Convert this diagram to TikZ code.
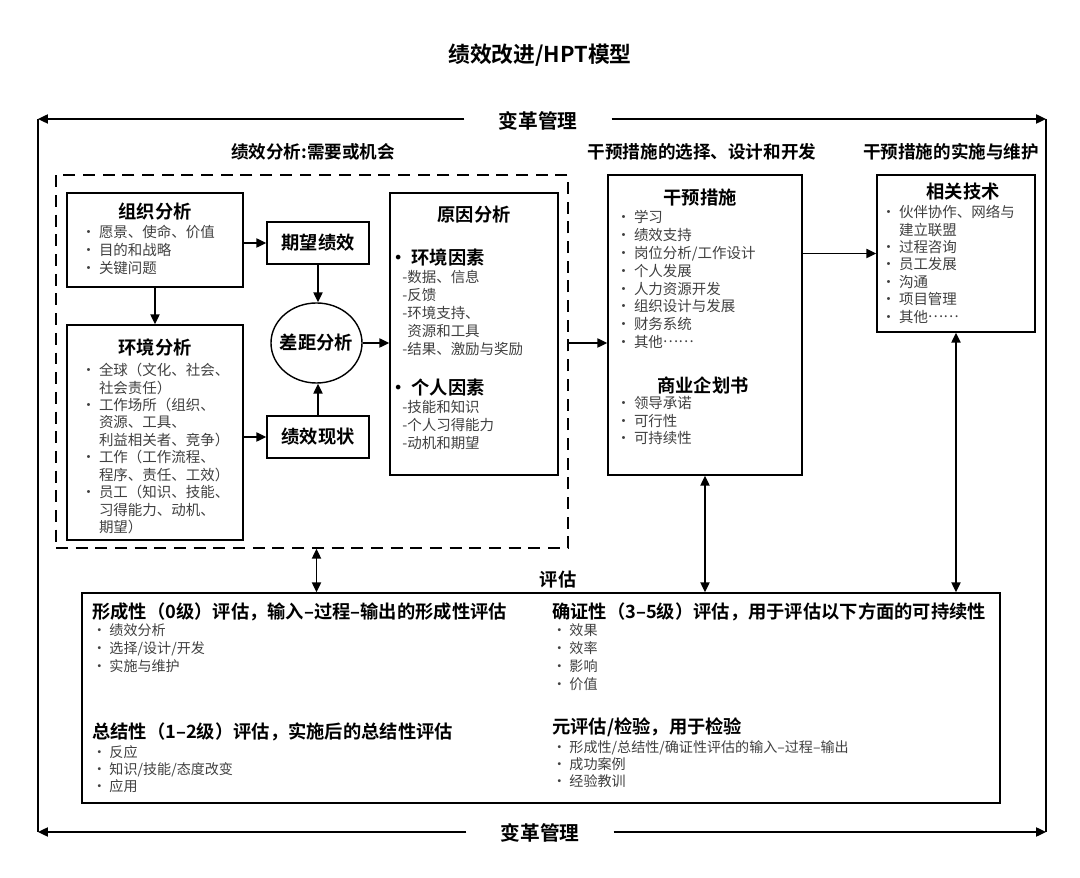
\documentclass[tikz,border=0pt]{standalone}
\usepackage{fontspec}
\setmainfont{Noto Sans CJK SC}[BoldFont={Noto Sans CJK SC Bold}]
\usetikzlibrary{
    arrows.meta,
    shapes.geometric
}

\newcommand{\middots}{\raisebox{0.33em}{……}}

\tikzset{
    box/.style={draw, line width=1pt, inner sep=0pt},
    ttl/.style={font=\bfseries\fontsize{13}{15}\selectfont, inner sep=0pt},
    hdr/.style={font=\bfseries\fontsize{12.5}{15}\selectfont, inner sep=0pt},
    lst/.style={anchor=north west, inner sep=0pt, align=left, text=black!75,
        font=\fontsize{10.3}{12.6}\selectfont},
    arr/.style={-{Triangle[length=7pt,width=6.5pt]}, line width=1pt},
    dbl/.style={{Triangle[length=7pt,width=6.5pt]}-{Triangle[length=7pt,width=6.5pt]}, line width=1pt},
    chg/.style={font=\bfseries\fontsize{14}{16}\selectfont, inner xsep=0.85cm, inner ysep=0pt}
}

\begin{document}
\begin{tikzpicture}[x=0.025cm, y=-0.025cm]
\useasboundingbox (0,0) rectangle (1080,878);

% Title
\node[font=\bfseries\fontsize{15.5}{18}\selectfont] (title) at (540,55) {绩效改进/HPT模型};

% Change management frame
\node[chg] (chgtop) at (538,121) {变革管理};
\node[chg] (chgbot) at (540,833) {变革管理};
\coordinate (tl) at (38,119);
\coordinate (tr) at (1046,119);
\coordinate (bl) at (38,832);
\coordinate (br) at (1046,832);
\draw[arr] (chgtop.west |- tl) -- (tl);
\draw[arr] (chgtop.east |- tr) -- (tr);
\draw[arr] (chgbot.west |- bl) -- (bl);
\draw[arr] (chgbot.east |- br) -- (br);
\draw[line width=1pt] (tl) -- (bl) (tr) -- (br);

% Phase headers
\node[hdr] (h1) at (313,152) {绩效分析:需要或机会};
\node[hdr] (h2) at (702,152) {干预措施的选择、设计和开发};
\node[hdr] (h3) at (951,152) {干预措施的实施与维护};

% Performance analysis
\node[draw, dash pattern=on 8.5pt off 5.5pt, line width=1pt,
    minimum width=12.8cm, minimum height=9.325cm] (perf) at (312,361.5) {};

\node[box, minimum width=4.4cm, minimum height=2.35cm] (org) at (155,240) {};
\node[ttl] (orgt) at (155,212) {组织分析};
\node[lst] (orgl) at (81,225) {· 愿景、使命、价值\\· 目的和战略\\· 关键问题};

\node[box, minimum width=4.4cm, minimum height=5.375cm] (env) at (155,432.5) {};
\node[ttl] (envt) at (155,348) {环境分析};
\node[lst, font=\fontsize{10.3}{12.4}\selectfont] (envl) at (81,363)
    {· 全球（文化、社会、\\\hphantom{· }社会责任）\\· 工作场所（组织、\\\hphantom{· }资源、工具、\\\hphantom{· }利益相关者、竞争）\\· 工作（工作流程、\\\hphantom{· }程序、责任、工效）\\· 员工（知识、技能、\\\hphantom{· }习得能力、动机、\\\hphantom{· }期望）};

\node[box, ttl, minimum width=2.55cm, minimum height=1.05cm] (want) at (318,243) {期望绩效};
\node[box, ttl, minimum width=2.55cm, minimum height=1.05cm] (now) at (318,437) {绩效现状};
\node[draw, ellipse, line width=1pt, minimum width=2.275cm, minimum height=2cm] (gap) at (316.5,343) {};
\node[ttl] (gapt) at (gap) {差距分析};

% Cause analysis
\node[box, minimum width=4.2cm, minimum height=7.05cm] (cause) at (474,334) {};
\node[ttl] (causet) at (474,215) {原因分析};
\node[ttl, anchor=west] (envf) at (389,258) {· 环境因素};
\node[lst, font=\fontsize{10.3}{12.7}\selectfont] (envfl) at (402,270)
    {-数据、信息\\-反馈\\-环境支持、\\\hphantom{-}资源和工具\\-结果、激励与奖励};
\node[ttl, anchor=west] (indf) at (389,388) {· 个人因素};
\node[lst, font=\fontsize{10.3}{12.7}\selectfont] (indfl) at (402,400)
    {-技能和知识\\-个人习得能力\\-动机和期望};

% Interventions
\node[box, minimum width=4.85cm, minimum height=7.5cm] (interv) at (705,325) {};
\node[ttl] (intervt) at (700,198) {干预措施};
\node[lst, font=\fontsize{10.3}{12.7}\selectfont] (intervl) at (616,210)
    {· 学习\\· 绩效支持\\· 岗位分析/工作设计\\· 个人发展\\· 人力资源开发\\· 组织设计与发展\\· 财务系统\\· 其他\middots};
\node[ttl] (bizt) at (703,385) {商业企划书};
\node[lst, font=\fontsize{10.3}{12.5}\selectfont] (bizl) at (616,396)
    {· 领导承诺\\· 可行性\\· 可持续性};

% Techniques
\node[box, minimum width=3.95cm, minimum height=3.925cm] (tech) at (956,253.5) {};
\node[ttl] (techt) at (963,192) {相关技术};
\node[lst, font=\fontsize{10.3}{12.4}\selectfont] (techl) at (881,205)
    {· 伙伴协作、网络与\\\hphantom{· }建立联盟\\· 过程咨询\\· 员工发展\\· 沟通\\· 项目管理\\· 其他\middots};

% Evaluation
\node[box, minimum width=22.95cm, minimum height=5.25cm] (eval) at (541,698) {};
\node[ttl] (evalt) at (558,580) {评估};
\node[ttl, anchor=west] (formt) at (92,612) {形成性（0级）评估，输入–过程–输出的形成性评估};
\node[lst, font=\fontsize{10}{12.8}\selectfont] (forml) at (92,623)
    {· 绩效分析\\· 选择/设计/开发\\· 实施与维护};
\node[ttl, anchor=west] (sumt) at (92,732) {总结性（1–2级）评估，实施后的总结性评估};
\node[lst, font=\fontsize{10}{12.3}\selectfont] (suml) at (92,745)
    {· 反应\\· 知识/技能/态度改变\\· 应用};
\node[ttl, anchor=west] (conft) at (552,612) {确证性（3–5级）评估，用于评估以下方面的可持续性};
\node[lst, font=\fontsize{10}{12.8}\selectfont] (confl) at (552,623)
    {· 效果\\· 效率\\· 影响\\· 价值};
\node[ttl, anchor=west] (metat) at (552,727) {元评估/检验，用于检验};
\node[lst, font=\fontsize{10}{12.3}\selectfont] (metal) at (552,740)
    {· 形成性/总结性/确证性评估的输入–过程–输出\\· 成功案例\\· 经验教训};

% Connectors
\draw[arr] (org.east |- want) -- (want.west);
\draw[arr] (org.south) -- (env.north);
\draw[arr] (want.south) -- (want.south |- gap.north);
\draw[arr] (now.north) -- (now.north |- gap.south);
\draw[arr] (env.east |- now) -- (now.west);
\draw[arr] (gap.east) -- (cause.west |- gap.east);
\draw[arr] (perf.east |- gap) -- (interv.west |- gap);
\draw[arr] (interv.east |- tech) -- (tech.west);
\draw[dbl] (gap |- perf.south) -- (gap |- eval.north);
\draw[dbl] (interv.south) -- (interv.south |- eval.north);
\draw[dbl] (tech.south) -- (tech.south |- eval.north);
\end{tikzpicture}
\end{document}
